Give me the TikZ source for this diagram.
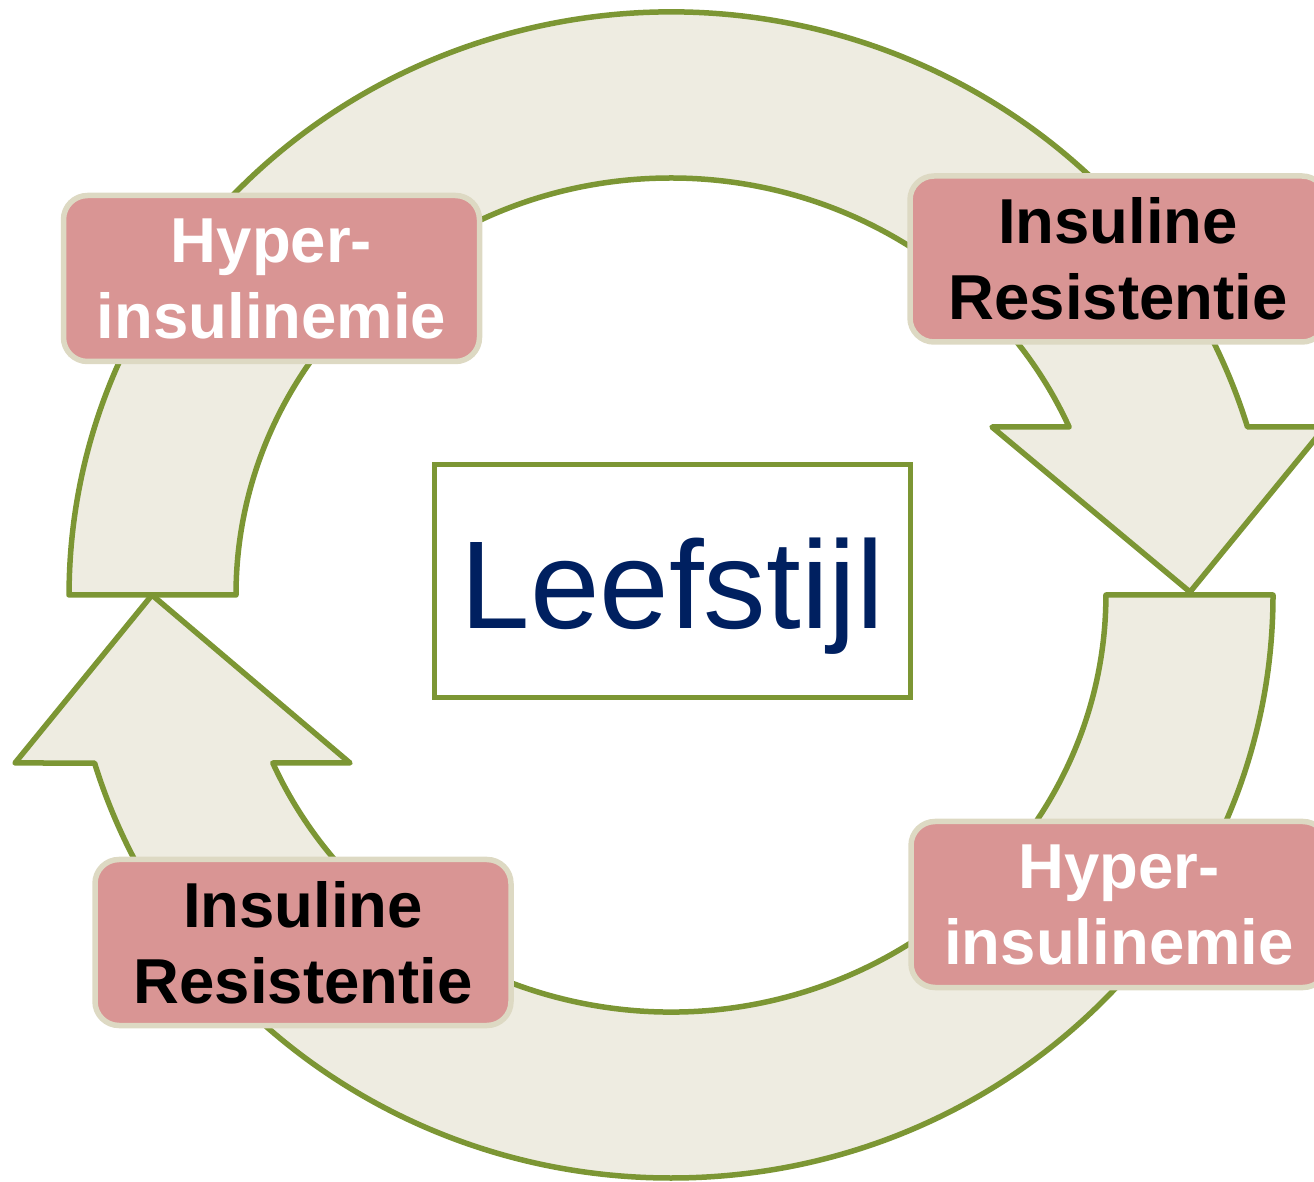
\documentclass[tikz,border=0pt]{standalone}
\usepackage{fontspec}
\setmainfont{Liberation Sans}
\definecolor{arcfill}{HTML}{EEECE1}
\definecolor{arcline}{HTML}{7C9634}
\definecolor{boxfill}{HTML}{D99594}
\definecolor{boxline}{HTML}{DDD9C3}
\definecolor{navy}{HTML}{002060}
\tikzset{
  cyclearrow/.style={fill=arcfill, draw=arcline, line width=5.5pt, line join=round},
  statebox/.style={rectangle, rounded corners=24pt, fill=boxfill, draw=boxline, line width=5.5pt,
    minimum width=416pt, minimum height=166pt, inner sep=0pt, align=center,
    font=\bfseries\fontsize{63.5}{76}\selectfont},
  centerbox/.style={rectangle, fill=white, draw=arcline, line width=5pt,
    minimum width=476pt, minimum height=233pt, inner sep=0pt}
}
\begin{document}
\begin{tikzpicture}[x=1pt,y=1pt]
\useasboundingbox (0,0) rectangle (1314,1181);
% upper arrow (left -> over top -> right, pointing down)
\draw[cyclearrow] (69,586) -- (236,586)
  arc[start angle=180, end angle=23.76, x radius=435pt, y radius=417pt]
  -- (992,754) -- (1190,589) -- (1325,754) -- (1247.5,754)
  arc[start angle=16.75, end angle=180, x radius=602pt, y radius=583pt] -- cycle;
% lower arrow (right -> under bottom -> left, pointing up)
\draw[cyclearrow] (1106,586) -- (1273,586)
  arc[start angle=0, end angle=-163.25, x radius=602pt, y radius=583pt]
  -- (15,418) -- (152,586) -- (350,418) -- (272.8,418)
  arc[start angle=-156.24, end angle=0, x radius=435pt, y radius=417pt] -- cycle;
% state boxes
\node[statebox, text=white] (tl) at (271.5,902.5) {Hyper-\\insulinemie};
\node[statebox, text=black] (tr) at (1118,922) {Insuline\\Resistentie};
\node[statebox, text=white] (br) at (1119,276.5) {Hyper-\\insulinemie};
\node[statebox, text=black] (bl) at (303,238.5) {Insuline\\Resistentie};
% centre
\node[centerbox] (leef) at (672,599.5) {};
\node[anchor=base, inner sep=0pt, text=navy, font=\fontsize{125}{130}\selectfont] (leeftxt) at (672.5,552) {Leefstijl};
\end{tikzpicture}
\end{document}
